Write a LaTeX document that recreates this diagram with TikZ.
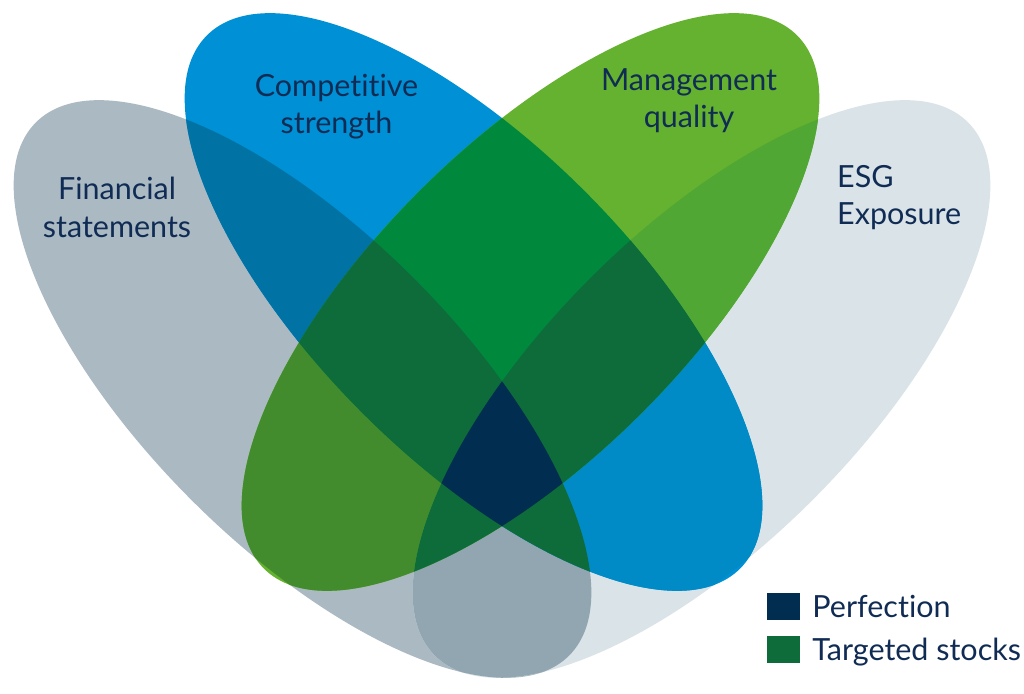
\documentclass[tikz,border=0pt]{standalone}
\usepackage{fontspec}
\setmainfont{Lato}[Ligatures=NoCommon]
\usepackage{xcolor}
\usepackage{tikz}
\usetikzlibrary{positioning}
\definecolor{fincol}{RGB}{171,185,195}
\definecolor{esgcol}{RGB}{217,227,232}
\definecolor{compcol}{RGB}{0,144,213}
\definecolor{mgmtcol}{RGB}{100,178,47}
\definecolor{finesg}{RGB}{146,166,178}
\definecolor{fincomp}{RGB}{0,114,163}
\definecolor{finmgmt}{RGB}{66,140,46}
\definecolor{esgcomp}{RGB}{0,138,198}
\definecolor{esgmgmt}{RGB}{80,167,52}
\definecolor{compmgmt}{RGB}{0,137,60}
\definecolor{targetcol}{RGB}{14,108,58}
\definecolor{perfcol}{RGB}{0,45,80}
\definecolor{labelcol}{RGB}{16,44,84}
\newcommand{\FinSet}{(302.5,304) circle [x radius=377pt,y radius=157pt,rotate=-45]}
\newcommand{\EsgSet}{(701.5,304) circle [x radius=377pt,y radius=157pt,rotate=45]}
\newcommand{\CompSet}{(473.5,391) circle [x radius=377pt,y radius=157pt,rotate=-45]}
\newcommand{\MgmtSet}{(530.5,391) circle [x radius=377pt,y radius=157pt,rotate=45]}

\begin{document}
\begin{tikzpicture}[x=1pt,y=1pt,
  lbl/.style={text=labelcol,inner sep=0pt,font=\fontsize{30.5}{37.5}\selectfont},
  key/.style={minimum width=33pt,minimum height=27pt,inner sep=0pt},
  keytext/.style={lbl,text depth=0pt}]
\fill[white] (0,0) rectangle (1024,693);
\useasboundingbox (0,0) rectangle (1024,693);
% single sets
\fill[fincol] \FinSet;
\fill[esgcol] \EsgSet;
\fill[compcol] \CompSet;
\fill[mgmtcol] \MgmtSet;
% two sets
\begin{scope}\clip \FinSet; \fill[finesg] \EsgSet; \end{scope}
\begin{scope}\clip \FinSet; \fill[fincomp] \CompSet; \end{scope}
\begin{scope}\clip \FinSet; \fill[finmgmt] \MgmtSet; \end{scope}
\begin{scope}\clip \EsgSet; \fill[esgcomp] \CompSet; \end{scope}
\begin{scope}\clip \EsgSet; \fill[esgmgmt] \MgmtSet; \end{scope}
\begin{scope}\clip \CompSet; \fill[compmgmt] \MgmtSet; \end{scope}
% three sets: targeted stocks
\begin{scope}\clip \FinSet; \clip \EsgSet; \fill[targetcol] \CompSet; \end{scope}
\begin{scope}\clip \FinSet; \clip \EsgSet; \fill[targetcol] \MgmtSet; \end{scope}
\begin{scope}\clip \FinSet; \clip \CompSet; \fill[targetcol] \MgmtSet; \end{scope}
\begin{scope}\clip \EsgSet; \clip \CompSet; \fill[targetcol] \MgmtSet; \end{scope}
% all four: perfection
\begin{scope}\clip \FinSet; \clip \EsgSet; \clip \CompSet; \fill[perfcol] \MgmtSet; \end{scope}

\node[lbl,align=center,anchor=north] (fin) at (117,516) {Financial\\statements};
\node[lbl,align=center,anchor=north] (comp) at (336.5,619) {Competitive\\strength};
\node[lbl,align=center,anchor=north] (mgmt) at (689,625) {Management\\quality};
\node[lbl,align=left,anchor=north west] (esg) at (837,528) {ESG\\Exposure};

\node[key,fill=perfcol] (perfkey) at (783.5,86.5) {};
\node[key,fill=targetcol] (tgtkey) at (783.5,43.5) {};
\node[keytext,right=12pt of perfkey] (perf) {Perfection};
\node[keytext,right=12pt of tgtkey] (tgt) {Targeted stocks};
\end{tikzpicture}
\end{document}
